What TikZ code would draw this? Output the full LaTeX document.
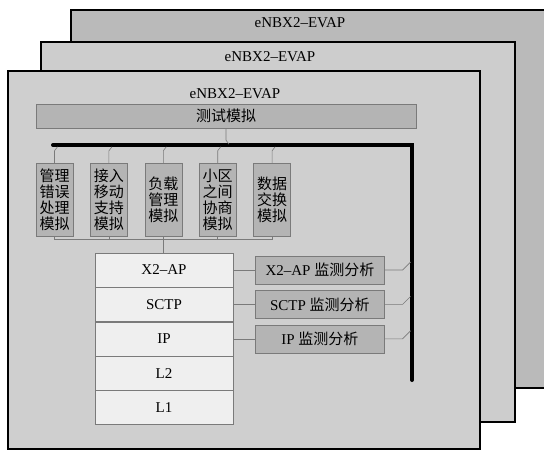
\documentclass[tikz,border=0pt]{standalone}
\usepackage{fontspec}
\setmainfont{Liberation Serif}
\newfontfamily\cjk{Noto Sans CJK SC}
\usetikzlibrary{positioning}
\definecolor{backfill}{HTML}{BABABA}
\definecolor{midfill}{HTML}{CDCDCD}
\definecolor{frontfill}{HTML}{CFCFCF}
\definecolor{boxfill}{HTML}{B4B4B4}
\definecolor{stackfill}{HTML}{EFEFEF}
\definecolor{linegray}{HTML}{7A7A7A}
\begin{document}
\begin{tikzpicture}
		[x=1pt,y=-1pt,
		every node/.style={inner sep=0pt,font=\fontsize{15}{17}\selectfont},
		frame/.style={draw=black,line width=2.5pt},
		modbox/.style={draw=linegray,fill=boxfill,minimum width=37pt,minimum height=73pt,align=center,font=\fontsize{15}{16}\selectfont\cjk},
		layer/.style={draw=linegray,fill=stackfill,minimum width=138pt,minimum height=34pt},
		monbox/.style={draw=linegray,fill=boxfill,minimum width=129pt,minimum height=28pt},
		wire/.style={draw=linegray,line width=0.6pt},
		bus/.style={line width=4pt,line cap=round}]
		\useasboundingbox (0,0) rectangle (544,451);
		\clip (0,0) rectangle (544,451);
		% three stacked frames
		\filldraw[frame,fill=backfill] (71,10) rectangle (560,388);
		\filldraw[frame,fill=midfill] (41,42) rectangle (515,422);
		\filldraw[frame,fill=frontfill] (8,71) rectangle (480,449);
		\node (backtitle) at (300,23) {eNBX2--EVAP};
		\node (midtitle) at (270,57) {eNBX2--EVAP};
		\node (fronttitle) at (235,94) {eNBX2--EVAP};
		\node[monbox,minimum width=380pt,minimum height=24pt] (test) at (226,116) {\cjk 测试模拟};
		% modules
		\node[modbox] (mgmt) at (54.5,199.5) {管理\\错误\\处理\\模拟};
		\node[modbox,right=17pt of mgmt] (access) {接入\\移动\\支持\\模拟};
		\node[modbox,right=17pt of access] (load) {负载\\管理\\模拟};
		\node[modbox,right=17pt of load] (cell) {小区\\之间\\协商\\模拟};
		\node[modbox,right=17pt of cell] (data) {数据\\交换\\模拟};
		% protocol stack
		\node[layer] (x2ap) at (164,270) {X2--AP};
		\node[layer,below=0pt of x2ap] (sctp) {SCTP};
		\node[layer,below=0pt of sctp] (ip) {IP};
		\node[layer,below=0pt of ip] (ltwo) {L2};
		\node[layer,below=0pt of ltwo] (lone) {L1};
		\node[monbox,right=22pt of x2ap] (x2apmon) {X2--AP {\cjk 监测分析}};
		\node[monbox,right=22pt of sctp] (sctpmon) {SCTP {\cjk 监测分析}};
		\node[monbox,right=22pt of ip] (ipmon) {IP {\cjk 监测分析}};
		% bus
		\coordinate (busw) at (53,145);
		\coordinate (busne) at (412,145);
		\coordinate (buss) at (412,380);
		\draw[bus] (busw) -- (busne) -- (buss);
		\draw[wire] (test.south) -- ++(0,12) -- ++(3,4);
		\foreach \m in {mgmt,access,load,cell,data}
			\draw[wire] (\m.north) -- ++(0,-12) -- ++(3,-4);
		\draw[wire] (mgmt.south) -- ++(0,3) -| (data.south);
		\foreach \m in {access,load,cell}
			\draw[wire] (\m.south) -- ++(0,3);
		\draw[wire] (load.south) -- (load.south |- x2ap.north);
		\foreach \l/\m in {x2ap/x2apmon,sctp/sctpmon,ip/ipmon}{
			\draw[wire] (\l.east) -- (\m.west);
			\draw[wire] (\m.east) -- ++(18,0) -- ++(8,-8);
		}
	\end{tikzpicture}
\end{document}
